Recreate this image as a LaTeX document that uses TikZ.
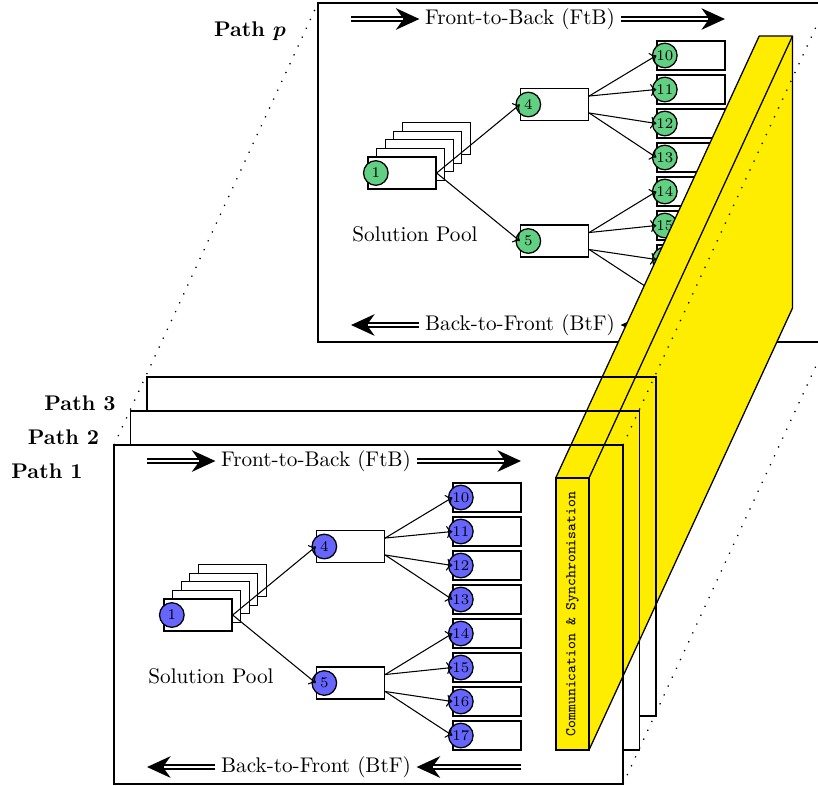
\documentclass[tikz,border=0pt]{standalone}
\usepackage{amsmath}
\usetikzlibrary{arrows.meta,calc}
\definecolor{cblue}{RGB}{102,102,255}
\definecolor{cgreen}{RGB}{98,208,130}
\definecolor{cyel}{RGB}{255,237,0}
\tikzset{
 panel/.style={rectangle, minimum width=240.1pt, minimum height=159.9pt, inner sep=0pt, outer sep=0pt, line width=0.6pt},
 box/.style={rectangle, draw, fill=white, line width=0.6pt, minimum width=32.1pt, minimum height=15.1pt, inner sep=0pt},
 leaf/.style={box, minimum height=13.7pt},
 num/.style={circle, draw, line width=0.6pt, minimum size=11.6pt, inner sep=0pt, font=\scriptsize},
 edge/.style={->, line width=0.5pt},
 bigarrow/.style={line width=3.2pt, -{Stealth[length=11pt,width=10pt,inset=3.5pt]},
   postaction={draw=white, line width=1.3pt, -, shorten >=7.8pt}},
 lab/.style={font=\bfseries, anchor=base east, inner sep=0pt},
 dotline/.style={loosely dotted, line width=0.6pt},
 frame/.style={line width=0.6pt},
}
\newcommand\panelcontent[4]{%
 \node[inner xsep=2.5pt] (#1ftb) at ({316+#3},{461+#4}) {Front-to-Back (FtB)};
 \coordinate (#1ftbL) at ({147+#3},{461+#4});
 \coordinate (#1ftbR) at ({521+#3},{461+#4});
 \draw[bigarrow] (#1ftbL) -- (#1ftb.west);
 \draw[bigarrow] (#1ftb.east) -- (#1ftbR);
 \node[inner xsep=2.5pt] (#1btf) at ({316+#3},{767+#4}) {Back-to-Front (BtF)};
 \coordinate (#1btfL) at ({147+#3},{767+#4});
 \coordinate (#1btfR) at ({521+#3},{767+#4});
 \draw[bigarrow] (#1btf.west) -- (#1btfL);
 \draw[bigarrow] (#1btfR) -- (#1btf.east);
 \node (#1pool) at ({211+#3},{676+#4}) {Solution Pool};
 \foreach \k in {4,3,2,1} {\node[box] (#1s\k) at ({198+8.6*\k+#3},{615-8.6*\k+#4}) {};}
 \node[box] (#1r1) at ({198+#3},{615+#4}) {};
 \node[box] (#1r4) at ({350.5+#3},{546.5+#4}) {};
 \node[box] (#1r5) at ({350.5+#3},{683+#4}) {};
 \foreach \i [count=\j from 0] in {10,11,12,13,14,15,16,17} {\node[leaf] (#1r\i) at ({487+#3},{497.5+34*\j+#4}) {};}
 \foreach \i in {1,4,5,10,11,12,13,14,15,16,17} {\node[num, fill=#2] (#1c\i) at ([xshift=4pt]#1r\i.west) {\i};}
 \draw[edge] (#1r1.east) -- (#1r4.west);
 \draw[edge] (#1r1.east) -- (#1r5.west);
 \foreach \i in {10,11} {\draw[edge] ([yshift=4pt]#1r4.east) -- (#1r\i.west);}
 \foreach \i in {12,13} {\draw[edge] ([yshift=-4pt]#1r4.east) -- (#1r\i.west);}
 \foreach \i in {14,15} {\draw[edge] ([yshift=4pt]#1r5.east) -- (#1r\i.west);}
 \foreach \i in {16,17} {\draw[edge] ([yshift=-4pt]#1r5.east) -- (#1r\i.west);}
}
\begin{document}
\begin{tikzpicture}[x=0.4717pt, y=-0.4717pt]
\useasboundingbox (0,0) rectangle (818,785);
\clip (0,0) rectangle (818,785);
% back panel p
\node[panel, draw, fill=white] (Pp) at (572.5,172.5) {};
\panelcontent{p}{cgreen}{204}{-442}
% panel fills
\node[panel, fill=white] (P3) at (401.5,546.5) {};
\node[panel, fill=white] (P2) at (385,580.5) {};
\node[panel, fill=white] (P1) at (368.5,614.5) {};
% yellow communication bar
\coordinate (yA) at (555.7,478);
\coordinate (yB) at (589,478);
\coordinate (yC) at (589,750);
\coordinate (yD) at (555.7,750);
\coordinate (yAb) at (759.2,36);
\coordinate (yBb) at (792.5,36);
\coordinate (yCb) at (792.5,308);
\filldraw[fill=cyel, frame, line join=round] (yA) -- (yAb) -- (yBb) -- (yCb) -- (yC) -- (yD) -- cycle;
\draw[frame] (yB) -- (yBb);
\node[draw, fill=cyel, line width=0.9pt, rotate=90, minimum width=128.3pt, minimum height=15.7pt, inner sep=0pt, font=\ttfamily\scriptsize] (yf) at (572.35,614) {Communication \& Synchronisation};
% visible outlines of panels
\draw[frame] (P3.west |- P2.north) -- (P3.north west) -- (P3.north east) -- (P3.south east) -- (P2.east |- P3.south);
\draw[frame] (P2.west |- P1.north) -- (P2.north west) -- (P2.north east) -- (P2.south east) -- (P1.east |- P2.south);
\draw[frame] (P1.north west) rectangle (P1.south east);
\panelcontent{a}{cblue}{0}{0}
% depth lines
\draw[dotline] (P1.north west) -- (Pp.north west);
\draw[dotline] (P1.north east) -- (Pp.north east);
\draw[dotline] (P1.south east) -- (Pp.south east);
% labels
\node[lab] (L1) at ([xshift=-14.6pt, yshift=-15.6pt]P1.north west) {Path 1};
\node[lab] (L2) at ([xshift=-14.6pt, yshift=-15.6pt]P2.north west) {Path 2};
\node[lab] (L3) at ([xshift=-14.6pt, yshift=-15.6pt]P3.north west) {Path 3};
\node[lab] (Lp) at ([xshift=-15pt, yshift=-15.6pt]Pp.north west) {Path $\boldsymbol{p}$};
\end{tikzpicture}
\end{document}
